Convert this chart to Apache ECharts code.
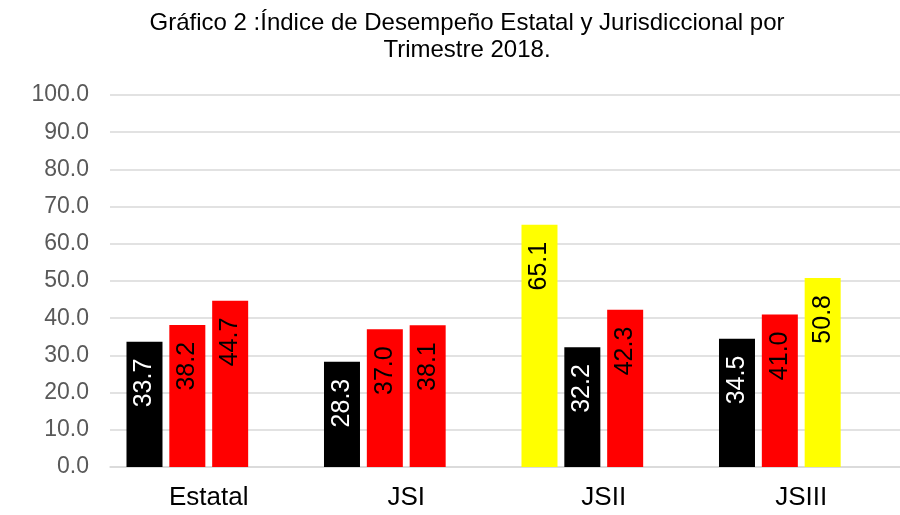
<!DOCTYPE html>
<html>
<head>
<meta charset="utf-8">
<title>Índice de Desempeño</title>
<script src="https://cdn.jsdelivr.net/npm/echarts@6/dist/echarts.min.js"></script>
<style>
  html, body { margin: 0; padding: 0; background: #fff; }
  #chart { width: 900px; height: 515px; }
</style>
</head>
<body>
<div id="chart"></div>
<script>
const categories = ["Estatal", "JSI", "JSII", "JSIII"];
const serie1 = [33.7, 28.3, 65.1, 34.5];
const serie2 = [38.2, 37.0, 32.2, 41.0];
const serie3 = [44.7, 38.1, 42.3, 50.8];
const yTicks = [0, 10, 20, 30, 40, 50, 60, 70, 80, 90, 100];

const FONT = "'Liberation Sans', Arial, sans-serif";

// semáforo: negro < 35, rojo < 50, amarillo >= 50
function barColor(v) {
  if (v < 35) return "#000000";
  if (v < 50) return "#ff0000";
  return "#ffff00";
}

function toItems(values) {
  return values.map(v => ({
    value: v,
    itemStyle: { color: barColor(v) },
    label: { color: v < 35 ? "#ffffff" : "#000000" }
  }));
}

function barSeries(values) {
  return {
    type: "bar",
    barWidth: 36,
    barGap: "19%",
    data: toItems(values),
    label: {
      show: true,
      position: "insideTop",
      distance: 17,
      rotate: 90,
      align: "right",
      verticalAlign: "middle",
      fontFamily: FONT,
      fontSize: 25,
      formatter: p => p.value.toFixed(1)
    }
  };
}

const chart = echarts.init(document.getElementById("chart"));
chart.setOption({
  animation: false,
  title: {
    text: "Gráfico 2 :Índice de Desempeño Estatal y Jurisdiccional por\nTrimestre 2018.",
    left: 462,
    textAlign: "center",
    top: 5,
    textStyle: {
      fontFamily: FONT,
      fontSize: 24,
      fontWeight: "normal",
      color: "#000",
      lineHeight: 27
    }
  },
  grid: { left: 110, right: 0, top: 95, bottom: 48 },
  xAxis: {
    type: "category",
    data: categories,
    axisLine: { lineStyle: { color: "#d9d9d9", width: 1.5 } },
    axisTick: { show: false },
    axisLabel: { color: "#000", fontFamily: FONT, fontSize: 26, margin: 18 }
  },
  yAxis: {
    type: "value",
    min: yTicks[0],
    max: yTicks[yTicks.length - 1],
    interval: 10,
    axisLine: { show: false },
    axisTick: { show: false },
    axisLabel: {
      color: "#595959",
      fontFamily: FONT,
      fontSize: 23,
      margin: 21,
      formatter: v => v.toFixed(1)
    },
    splitLine: { lineStyle: { color: "#d9d9d9", width: 1.5 } }
  },
  series: [
    barSeries(serie1),
    barSeries(serie2),
    barSeries(serie3),
    // serie vacía: desplaza el grupo de barras como en el original
    { type: "bar", barWidth: 36, barGap: "19%", data: categories.map(() => null) }
  ]
});
</script>
</body>
</html>
